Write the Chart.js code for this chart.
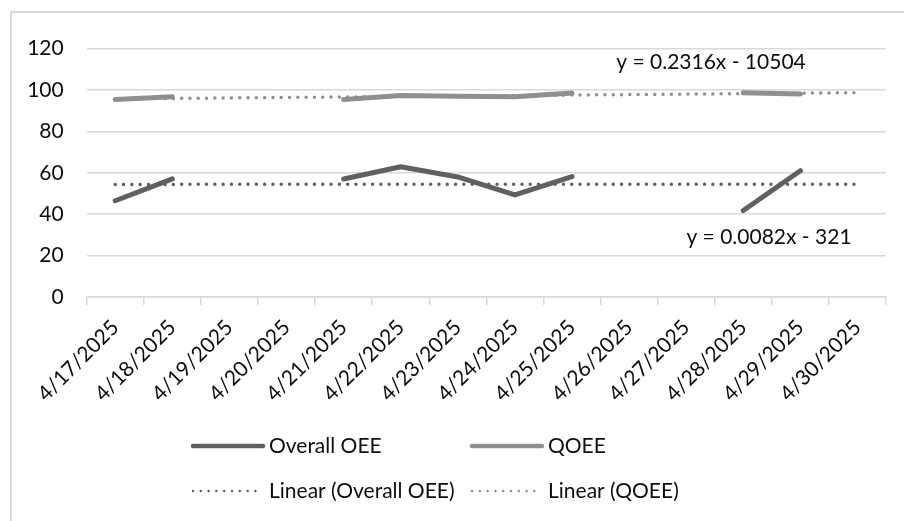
<!DOCTYPE html>
<html lang="en">
<head>
    <meta charset="UTF-8">
    <title>Overall OEE and QOEE</title>
    <style>
        html, body {
            margin: 0;
            padding: 0;
            background: #fff;
            overflow: hidden;
        }
        .frame {
            position: absolute;
            left: 10px;
            top: 11px;
            width: 900px;
            height: 520px;
            border-left: 2px solid #d9d9d9;
            border-top: 2px solid #d9d9d9;
            overflow: hidden;
        }
    </style>
    <script src="https://cdn.jsdelivr.net/npm/chart.js"></script>
</head>
<body>
    <div class="frame">
        <canvas id="oeeChart" width="892" height="508"></canvas>
    </div>

    <script>
        // Categories (one per day)
        const dates = ['4/17/2025', '4/18/2025', '4/19/2025', '4/20/2025', '4/21/2025', '4/22/2025', '4/23/2025',
                       '4/24/2025', '4/25/2025', '4/26/2025', '4/27/2025', '4/28/2025', '4/29/2025', '4/30/2025'];

        // Series values (null = no data that day)
        const overallOEE = [46.5, 57.1, null, null, 57, 62.9, 58, 49.3, 58.2, null, null, 41.8, 61, null];
        const qoee = [95.4, 96.7, null, null, 95.4, 97.3, 97, 96.7, 98.5, null, null, 98.7, 98.1, null];

        // Trendline end points (first and last day)
        const overallTrend = [54.4, null, null, null, null, null, null, null, null, null, null, null, null, 54.5];
        const qoeeTrend = [95.7, null, null, null, null, null, null, null, null, null, null, null, null, 98.7];

        const yTicks = [0, 20, 40, 60, 80, 100, 120];
        const trendLabels = ['y = 0.0082x - 321', 'y = 0.2316x - 10504'];

        const FONT = 'Lato, "Liberation Sans", sans-serif';
        const FSIZE = 21;
        const TEXT = '#0d0d0d';
        const GRID = '#d9d9d9';
        const DARK = '#606060';
        const LIGHT = '#8f8f8f';

        // Trendline equations, placed like Excel does
        const equationPlugin = {
            id: 'equations',
            afterDatasetsDraw(chart) {
                const ctx = chart.ctx;
                const y = chart.scales.y;
                ctx.save();
                ctx.font = FSIZE + 'px ' + FONT;
                ctx.fillStyle = TEXT;
                ctx.textAlign = 'center';
                ctx.textBaseline = 'middle';
                ctx.fillText(trendLabels[1], 699, y.getPixelForValue(113.4));
                ctx.fillText(trendLabels[0], 757, y.getPixelForValue(29));
                ctx.restore();
            }
        };

        // Two-column legend below the axis
        const legendPlugin = {
            id: 'gridLegend',
            afterDraw(chart) {
                const ctx = chart.ctx;
                const cols = [181, 460];
                const rows = [433, 478];
                ctx.save();
                ctx.font = FSIZE + 'px ' + FONT;
                ctx.textBaseline = 'middle';
                chart.data.datasets.forEach((ds, i) => {
                    const x = cols[i % 2];
                    const yy = rows[Math.floor(i / 2)];
                    ctx.beginPath();
                    ctx.strokeStyle = ds.borderColor;
                    ctx.lineCap = 'round';
                    if (ds.borderDash) {
                        ctx.lineWidth = 2.5;
                        ctx.setLineDash([0, 7.8]);
                    } else {
                        ctx.lineWidth = 4.5;
                        ctx.setLineDash([]);
                    }
                    ctx.moveTo(x, yy);
                    ctx.lineTo(x + 70, yy);
                    ctx.stroke();
                    ctx.setLineDash([]);
                    ctx.fillStyle = TEXT;
                    ctx.textAlign = 'left';
                    ctx.fillText(ds.label, x + 76, yy);
                });
                ctx.restore();
            }
        };

        const ctx = document.getElementById('oeeChart').getContext('2d');
        const chart = new Chart(ctx, {
            type: 'line',
            data: {
                labels: dates,
                datasets: [
                    {
                        label: 'Overall OEE',
                        data: overallOEE,
                        borderColor: DARK,
                        borderWidth: 5,
                        borderCapStyle: 'round',
                        borderJoinStyle: 'round',
                        pointRadius: 0,
                        spanGaps: false,
                        order: 1
                    },
                    {
                        label: 'QOEE',
                        data: qoee,
                        borderColor: LIGHT,
                        borderWidth: 5,
                        borderCapStyle: 'round',
                        borderJoinStyle: 'round',
                        pointRadius: 0,
                        spanGaps: false,
                        order: 1
                    },
                    {
                        label: 'Linear (Overall OEE)',
                        data: overallTrend,
                        borderColor: DARK,
                        borderWidth: 3.5,
                        borderDash: [0, 8.3],
                        borderCapStyle: 'round',
                        pointRadius: 0,
                        spanGaps: true,
                        order: 2
                    },
                    {
                        label: 'Linear (QOEE)',
                        data: qoeeTrend,
                        borderColor: LIGHT,
                        borderWidth: 3.5,
                        borderDash: [0, 8.3],
                        borderCapStyle: 'round',
                        pointRadius: 0,
                        spanGaps: true,
                        order: 2
                    }
                ]
            },
            options: {
                responsive: false,
                animation: false,
                layout: { padding: { top: 28, right: 18, bottom: 0, left: 0 } },
                plugins: {
                    legend: { display: false },
                    tooltip: { enabled: false }
                },
                scales: {
                    x: {
                        offset: true,
                        grid: {
                            offset: true,
                            drawOnChartArea: false,
                            drawTicks: true,
                            tickLength: 8,
                            color: GRID,
                            lineWidth: 1.5
                        },
                        border: { color: GRID, width: 1.5 },
                        ticks: {
                            autoSkip: false,
                            minRotation: 45,
                            maxRotation: 45,
                            padding: 10,
                            color: TEXT,
                            font: { family: FONT, size: FSIZE }
                        },
                        afterFit(s) { s.height = 224; }
                    },
                    y: {
                        min: 0,
                        max: 120,
                        afterBuildTicks(s) { s.ticks = yTicks.map(v => ({ value: v })); },
                        grid: { color: GRID, lineWidth: 1.5, drawTicks: false },
                        border: { display: false },
                        ticks: {
                            padding: 23,
                            color: TEXT,
                            font: { family: FONT, size: FSIZE }
                        },
                        afterFit(s) { s.width = 74.7; }
                    }
                }
            },
            plugins: [equationPlugin, legendPlugin]
        });
    </script>
</body>
</html>
